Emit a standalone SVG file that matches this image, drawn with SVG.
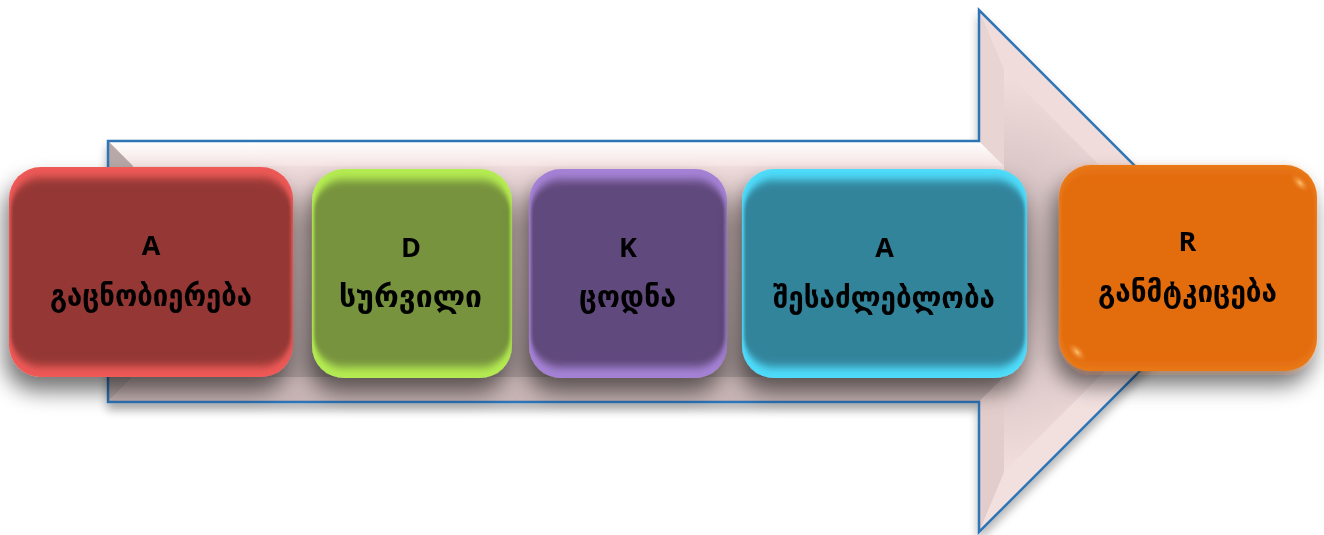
<svg xmlns="http://www.w3.org/2000/svg" width="1324" height="535" viewBox="0 0 1324 535">
<defs>
<style>
.lat{font-family:"Open Sans","DejaVu Sans",sans-serif;font-weight:bold;font-size:27px;text-anchor:middle;fill:#000}
.geo{font-family:"DejaVu Sans",sans-serif;font-weight:bold;font-size:30px;text-anchor:middle;fill:#000}
.inner{filter:url(#soft)}
</style>
<filter id="boxShadow" x="-30%" y="-30%" width="160%" height="170%">
<feGaussianBlur in="SourceAlpha" stdDeviation="11"/>
<feOffset dx="-4" dy="14" result="b"/>
<feComponentTransfer><feFuncA type="linear" slope="0.55"/></feComponentTransfer>
<feMerge><feMergeNode/><feMergeNode in="SourceGraphic"/></feMerge>
</filter>
<filter id="arrowShadow" x="-10%" y="-10%" width="120%" height="125%">
<feGaussianBlur in="SourceAlpha" stdDeviation="5"/>
<feOffset dx="0" dy="7"/>
<feComponentTransfer><feFuncA type="linear" slope="0.3"/></feComponentTransfer>
<feMerge><feMergeNode/><feMergeNode in="SourceGraphic"/></feMerge>
</filter>
<filter id="soft" x="-10%" y="-10%" width="120%" height="120%">
<feGaussianBlur stdDeviation="1.5 4"/>
</filter>
<linearGradient id="topFace" x1="0" y1="0" x2="0" y2="1">
<stop offset="0" stop-color="#ffffff"/><stop offset="1" stop-color="#f6e4e4"/>
</linearGradient>
<linearGradient id="innerFace" x1="0" y1="0" x2="0" y2="1">
<stop offset="0" stop-color="#f0dcdc"/><stop offset="0.3" stop-color="#c4b0b0"/><stop offset="1" stop-color="#ad9d9d"/>
</linearGradient>
<radialGradient id="headFace" cx="990" cy="271" r="200" gradientUnits="userSpaceOnUse">
<stop offset="0" stop-color="#a89898"/><stop offset="0.55" stop-color="#dcc8c8"/><stop offset="1" stop-color="#f2dedd"/>
</radialGradient>
<radialGradient id="spot" cx="0.5" cy="0.5" r="0.5">
<stop offset="0" stop-color="#ffc070"/><stop offset="1" stop-color="#e36c09" stop-opacity="0"/>
</radialGradient>
</defs>

<g id="arrow" filter="url(#arrowShadow)">
<polygon points="108,141 979,141 979,10 1240,271 979,532 979,402 108,402" fill="#ecd8d7"/>
<polygon points="108,141 979,141 1004,166 133,166" fill="url(#topFace)"/>
<polygon points="108,141 133,166 133,377 108,402" fill="#b8a8a8"/>
<polygon points="108,402 133,377 1004,377 979,402" fill="#c8b4b4"/>
<polygon points="979,10 1240,271 1205,271 1004,70" fill="#efdcdb"/>
<polygon points="979,532 1240,271 1205,271 1004,472" fill="#f2e0df"/>
<polygon points="979,10 1004,70 1004,166 979,141" fill="#e8d4d3"/>
<polygon points="979,532 1004,472 1004,377 979,402" fill="#e2cdcc"/>
<polygon points="133,166 1004,166 1004,377 133,377" fill="url(#innerFace)"/>
<polygon points="1004,70 1205,271 1004,472" fill="url(#headFace)"/>
<polygon points="108,141 979,141 979,10 1240,271 979,532 979,402 108,402" fill="none" stroke="#2e75b6" stroke-width="2.5" stroke-linejoin="miter"/>
</g>

<g id="connectors"></g>

<g id="node1" filter="url(#boxShadow)">
<rect x="9" y="167" width="284" height="210" rx="32" fill="#ee5a57"/>
<rect class="inner" x="11" y="178" width="280" height="188" rx="30" fill="#953735"/>
<text class="lat" x="151" y="255">A</text>
<text class="geo" x="151" y="306" textLength="202" lengthAdjust="spacingAndGlyphs">გაცნობიერება</text>
</g>

<g id="node2" filter="url(#boxShadow)">
<rect x="312" y="169" width="200" height="209" rx="32" fill="#b4ec52"/>
<rect class="inner" x="314" y="180" width="196" height="187" rx="30" fill="#77933c"/>
<text class="lat" x="411" y="257">D</text>
<text class="geo" x="410.5" y="307" textLength="143" lengthAdjust="spacingAndGlyphs">სურვილი</text>
</g>

<g id="node3" filter="url(#boxShadow)">
<rect x="529" y="169" width="198" height="209" rx="32" fill="#a582d6"/>
<rect class="inner" x="531" y="180" width="194" height="187" rx="30" fill="#604a7b"/>
<text class="lat" x="628" y="257">K</text>
<text class="geo" x="627.5" y="307" textLength="97" lengthAdjust="spacingAndGlyphs">ცოდნა</text>
</g>

<g id="node4" filter="url(#boxShadow)">
<rect x="742" y="169" width="285" height="209" rx="32" fill="#4fdcfb"/>
<rect class="inner" x="744" y="180" width="281" height="187" rx="30" fill="#31849b"/>
<text class="lat" x="884.5" y="257">A</text>
<text class="geo" x="884" y="308" textLength="222" lengthAdjust="spacingAndGlyphs">შესაძლებლობა</text>
</g>

<g id="node5" filter="url(#boxShadow)">
<rect x="1059" y="165" width="258" height="206" rx="32" fill="#ea7a1c"/>
<rect class="inner" x="1061" y="170" width="254" height="196" rx="30" fill="#e36c09"/>
<ellipse cx="1300" cy="183" rx="13" ry="7" transform="rotate(45 1300 183)" fill="url(#spot)"/>
<ellipse cx="1077" cy="352" rx="13" ry="7" transform="rotate(45 1077 352)" fill="url(#spot)"/>
<text class="lat" x="1187.5" y="251">R</text>
<text class="geo" x="1187.5" y="302" textLength="179" lengthAdjust="spacingAndGlyphs">განმტკიცება</text>
</g>
</svg>
